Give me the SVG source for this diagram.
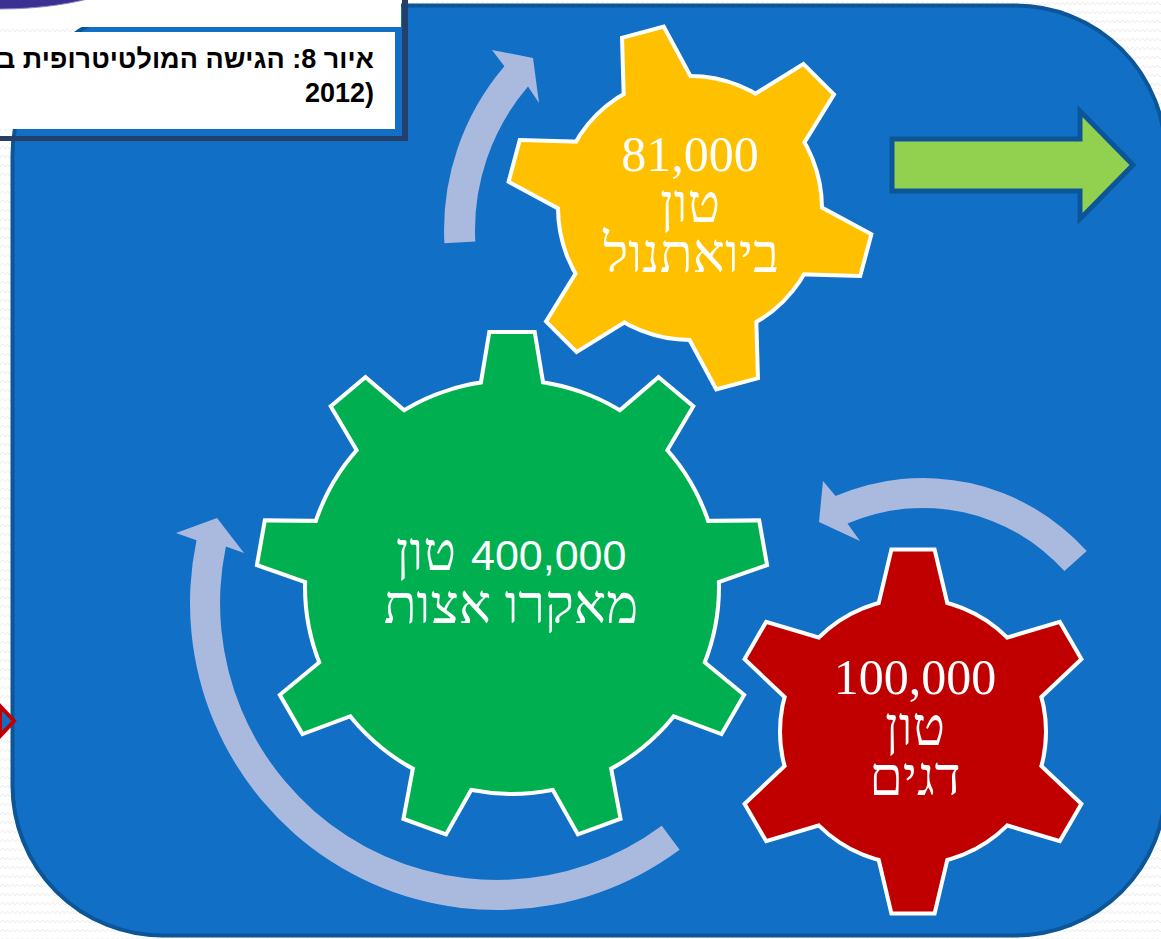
<svg xmlns="http://www.w3.org/2000/svg" width="1161" height="939" viewBox="0 0 1161 939">
  <defs>
    <pattern id="zig" width="10" height="9" patternUnits="userSpaceOnUse">
      <path d="M0,5 L2.5,2 L5,5 L7.5,2 L10,5" fill="none" stroke="#ececec" stroke-width="1"/>
    </pattern>
    <polygon id="toothS" points="-20,-180 20,-180 39,-100 -39,-100"/>
    <polygon id="toothL" points="-21,-253 21,-253 34.8,-170 -34.8,-170"/>
    <style>
      .outline { fill: #ffffff; stroke: #ffffff; stroke-width: 8; stroke-linejoin: miter; }
      .gtxt { font-family: "Liberation Serif", "DejaVu Serif", "DejaVu Sans", serif; font-size: 54px; fill: #ffffff; text-anchor: middle; }
      .gdig { font-family: "Liberation Serif", "DejaVu Serif", serif; font-size: 50px; fill: #ffffff; text-anchor: middle; }
      .gnum { font-family: "Liberation Sans", "DejaVu Sans", sans-serif; font-size: 43px; fill: #ffffff; }
      .cap { font-family: "Liberation Sans", "DejaVu Sans", sans-serif; font-size: 27px; font-weight: bold; fill: #000000; text-anchor: end; }
      .carrow { fill: #aabadf; }
    </style>
  </defs>

  <!-- page background -->
  <rect x="0" y="0" width="1161" height="939" fill="#ffffff"/>
  <rect x="0" y="0" width="1161" height="939" fill="url(#zig)"/>

  <!-- main blue panel -->
  <rect id="panel" x="12.5" y="5.5" width="1153" height="930" rx="150" ry="150" fill="#1170c6" stroke="#0c5597" stroke-width="4"/>

  <!-- top-left remnants -->
  <rect x="0" y="0" width="401" height="27" fill="#ffffff"/>
  <ellipse cx="0" cy="-40" rx="145" ry="49" fill="#3a3192" stroke="#8c88c8" stroke-width="1"/>
  <rect x="0" y="32" width="395" height="97" fill="#ffffff"/>
  <rect x="402" y="0" width="6" height="141" fill="#243f69"/>
  <rect x="0" y="136" width="408" height="5" fill="#243f69"/>
  <g id="caption">
    <text class="cap" x="374" y="68">איור 8: הגישה המולטיטרופית בו</text>
    <text class="cap" x="374" y="102">2012)</text>
  </g>

  <!-- red chevron at left edge -->
  <polygon points="0,706 14,721 0,736" fill="#1170c6" stroke="#c00000" stroke-width="4"/>

  <!-- connectors: circular arrows and output arrow -->
  <g id="connectors">
    <path class="carrow" d="M475.3,241.6 L444.4,243.2 A252,252 0 0 1 504.4,66.3 L492,50 L533,58 L539,103 L528,86.5 A221,221 0 0 0 475.3,241.6 Z"/>
    <path class="carrow" d="M661.8,825.7 L679.6,849.8 A307,307 0 0 1 196.5,540.2 L176,533 L217,518 L244,553 L225.9,546.4 A277,277 0 0 0 661.8,825.7 Z"/>
    <path class="carrow" d="M1064.4,571.1 L1086.7,551.1 A220,220 0 0 0 835.6,496.1 L823,481 L819,522 L860,541 L847.5,523.6 A190,190 0 0 1 1064.4,571.1 Z"/>
    <polygon id="out-arrow" points="892,139 1080,139 1080,111 1133,165 1080,219 1080,191 892,191" fill="#92d050" stroke="#0c5597" stroke-width="5" stroke-linejoin="miter"/>
  </g>

  <!-- yellow gear -->
  <g id="gear-bioethanol">
    <g transform="translate(690,208)">
      <g class="outline">
        <circle r="130"/>
        <use href="#toothS" transform="rotate(-15)"/>
        <use href="#toothS" transform="rotate(45)"/>
        <use href="#toothS" transform="rotate(105)"/>
        <use href="#toothS" transform="rotate(165)"/>
        <use href="#toothS" transform="rotate(225)"/>
        <use href="#toothS" transform="rotate(285)"/>
      </g>
      <g fill="#ffc000">
        <circle r="130"/>
        <use href="#toothS" transform="rotate(-15)"/>
        <use href="#toothS" transform="rotate(45)"/>
        <use href="#toothS" transform="rotate(105)"/>
        <use href="#toothS" transform="rotate(165)"/>
        <use href="#toothS" transform="rotate(225)"/>
        <use href="#toothS" transform="rotate(285)"/>
      </g>
    </g>
    <text class="gdig" x="690" y="171">81,000</text>
    <text class="gtxt" x="690" y="222">טון</text>
    <text class="gtxt" x="691" y="272">ביואתנול</text>
  </g>

  <!-- green gear -->
  <g id="gear-macroalgae">
    <g transform="translate(512,587)">
      <g class="outline">
        <circle r="205"/>
        <use href="#toothL" transform="rotate(0)"/>
        <use href="#toothL" transform="rotate(40)"/>
        <use href="#toothL" transform="rotate(80)"/>
        <use href="#toothL" transform="rotate(120)"/>
        <use href="#toothL" transform="rotate(160)"/>
        <use href="#toothL" transform="rotate(200)"/>
        <use href="#toothL" transform="rotate(240)"/>
        <use href="#toothL" transform="rotate(280)"/>
        <use href="#toothL" transform="rotate(320)"/>
      </g>
      <g fill="#00b050">
        <circle r="205"/>
        <use href="#toothL" transform="rotate(0)"/>
        <use href="#toothL" transform="rotate(40)"/>
        <use href="#toothL" transform="rotate(80)"/>
        <use href="#toothL" transform="rotate(120)"/>
        <use href="#toothL" transform="rotate(160)"/>
        <use href="#toothL" transform="rotate(200)"/>
        <use href="#toothL" transform="rotate(240)"/>
        <use href="#toothL" transform="rotate(280)"/>
        <use href="#toothL" transform="rotate(320)"/>
      </g>
    </g>
    <text class="gtxt" x="456" y="570" style="text-anchor:end">טון</text>
    <text class="gnum" x="471" y="570">400,000</text>
    <text class="gtxt" x="511" y="623">מאקרו אצות</text>
  </g>

  <!-- red gear -->
  <g id="gear-fish">
    <g transform="translate(913,731.5)">
      <g class="outline">
        <circle r="131"/>
        <use href="#toothS" transform="rotate(0)"/>
        <use href="#toothS" transform="rotate(60)"/>
        <use href="#toothS" transform="rotate(120)"/>
        <use href="#toothS" transform="rotate(180)"/>
        <use href="#toothS" transform="rotate(240)"/>
        <use href="#toothS" transform="rotate(300)"/>
      </g>
      <g fill="#c00000">
        <circle r="131"/>
        <use href="#toothS" transform="rotate(0)"/>
        <use href="#toothS" transform="rotate(60)"/>
        <use href="#toothS" transform="rotate(120)"/>
        <use href="#toothS" transform="rotate(180)"/>
        <use href="#toothS" transform="rotate(240)"/>
        <use href="#toothS" transform="rotate(300)"/>
      </g>
    </g>
    <text class="gdig" x="915" y="694">100,000</text>
    <text class="gtxt" x="915" y="745">טון</text>
    <text class="gtxt" x="915" y="795">דגים</text>
  </g>
</svg>
